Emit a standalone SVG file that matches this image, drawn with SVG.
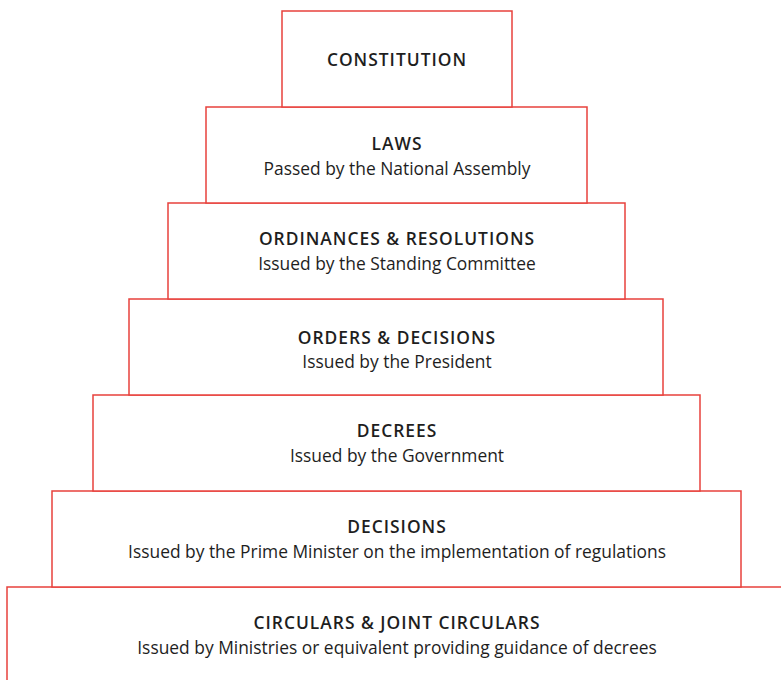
<svg xmlns="http://www.w3.org/2000/svg" width="781" height="680" viewBox="0 0 781 680">
<style>
rect{fill:#fff;stroke:#e8413c;stroke-width:1.5}
text{font-family:"Open Sans","Liberation Sans",sans-serif;fill:#1e1e1e;text-anchor:middle;font-size:17.4px}
.t{letter-spacing:1px;font-weight:600}
</style>
<rect x="0" y="0" width="781" height="680" style="stroke:none"/>
<g id="circulars"><rect x="7" y="587" width="790" height="110"/><text class="t" x="397" y="629">CIRCULARS &amp; JOINT CIRCULARS</text><text x="397" y="654">Issued by Ministries or equivalent providing guidance of decrees</text></g>
<g id="decisions"><rect x="52" y="491" width="689" height="96"/><text class="t" x="397" y="533">DECISIONS</text><text x="397" y="558">Issued by the Prime Minister on the implementation of regulations</text></g>
<g id="decrees"><rect x="93" y="395" width="607" height="96"/><text class="t" x="397" y="437">DECREES</text><text x="397" y="462">Issued by the Government</text></g>
<g id="orders"><rect x="129" y="299" width="534" height="96"/><text class="t" x="397" y="344">ORDERS &amp; DECISIONS</text><text x="397" y="368">Issued by the President</text></g>
<g id="ordinances"><rect x="168" y="203" width="457" height="96"/><text class="t" x="397" y="245">ORDINANCES &amp; RESOLUTIONS</text><text x="397" y="270">Issued by the Standing Committee</text></g>
<g id="laws"><rect x="206" y="107" width="381" height="96"/><text class="t" x="397" y="150">LAWS</text><text x="397" y="175">Passed by the National Assembly</text></g>
<g id="constitution"><rect x="282" y="11" width="230" height="96"/><text class="t" x="397" y="66">CONSTITUTION</text></g>
<g id="connectors"/>
</svg>
